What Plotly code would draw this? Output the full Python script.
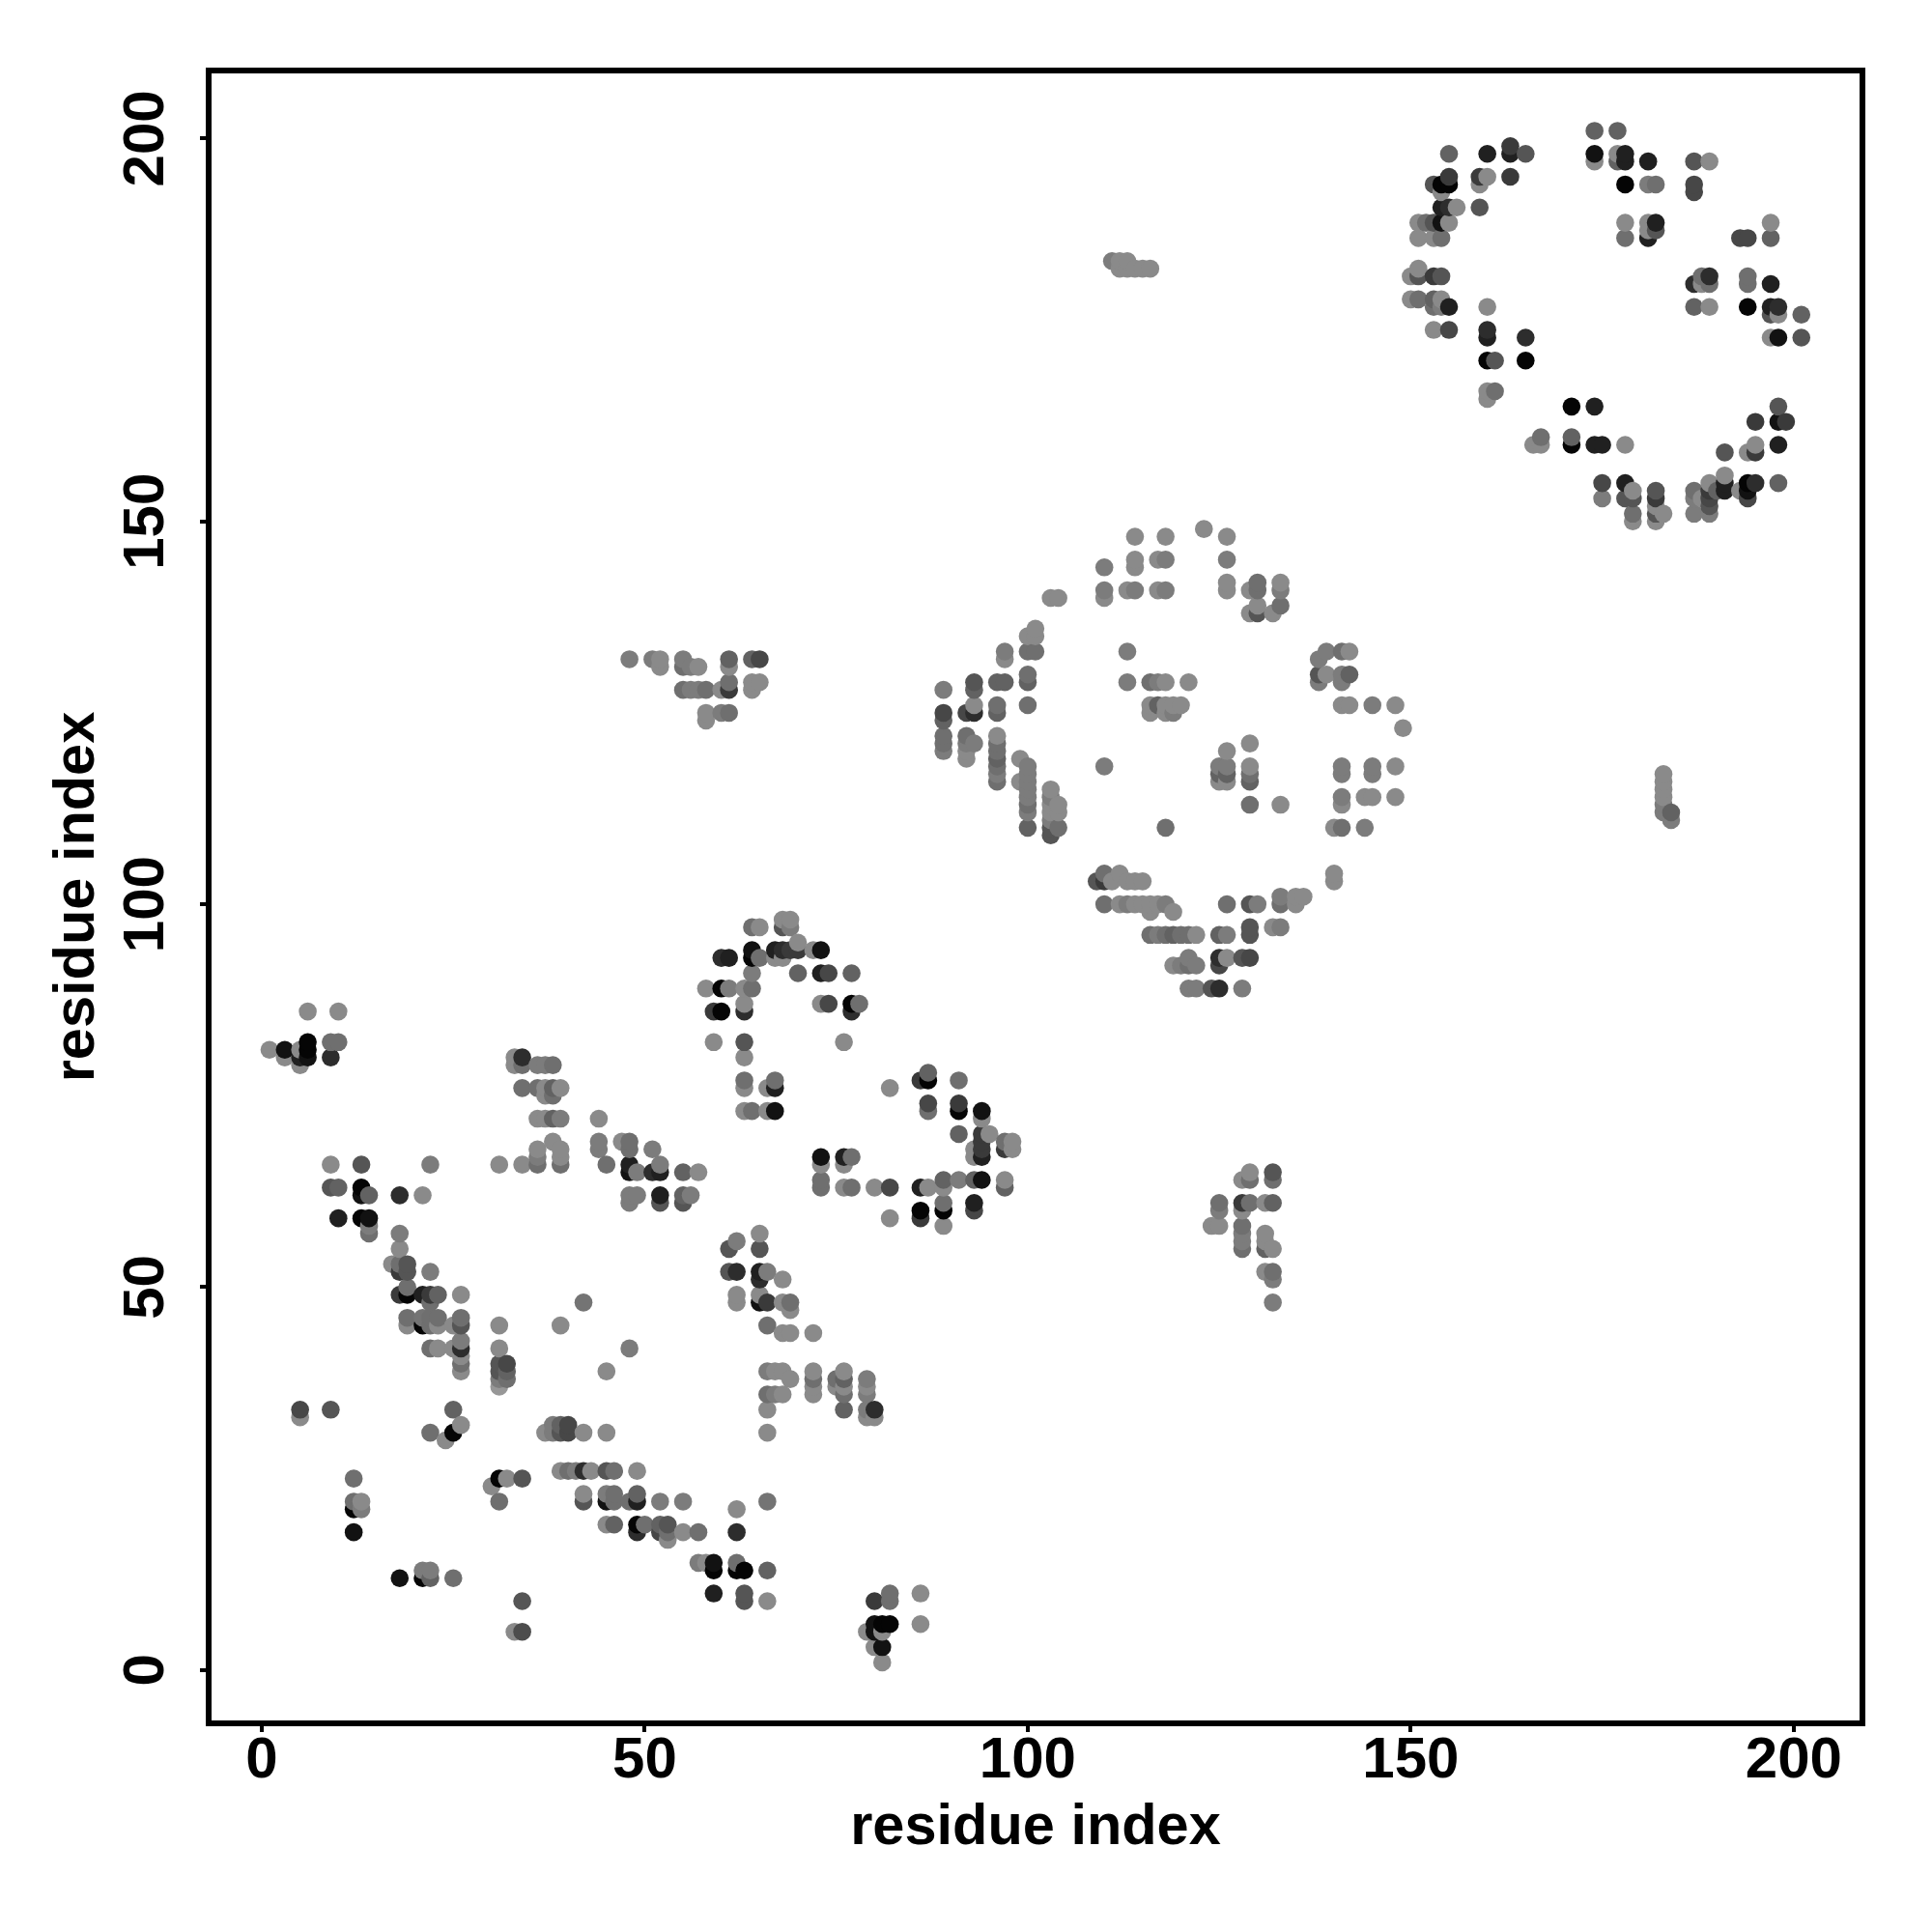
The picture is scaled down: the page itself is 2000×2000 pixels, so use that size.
import numpy as np
import pandas as pd
import plotly.graph_objects as go

# Contacts: residue i, residue j, shade (0 black ... 0.5 mid grey)
low_x = [33,34, 34, 18,21,22,25, 21,22, 12, 12,13, 12,13, 12, 31, 31,32,34, 30,
         39,40,41,42,43,45,46,49, 42,46,45,49, 42,45,46,48,49,52,
         45,46,49,50,52,53, 49,52,53, 53, 22,25, 25, 26, 24, 5,9, 5,
         37,38,39,40,42,45, 38,39,40, 31, 31,32, 31,32, 31,32, 31, 31,39, 42, 48, 45,
         26, 26, 26, 22,23,25,26, 26, 19,21,22,23,25,26, 19,21,22,23,26,
         18,19,21,22,23,26, 19, 22, 18,19,22, 17,18,19]
low_y = [5,5, 9, 12,12,12,12, 13,13, 18, 21,21, 22,22, 25, 22, 25,25,25, 24,
         26,26,26,26,26,26,26,26, 23,23,23,23, 22,22,22,22,22,22,
         19,19,19,19,19,19, 18,18,18, 17, 31,31, 34, 32, 30, 34,34, 33,
         31,31,31,31,31,31, 32,32,32, 37, 38,38, 39,39, 40,40, 42, 45,45, 48, 42, 39,
         39, 40, 41, 42,42,42,42, 43, 45,45,45,45,45,45, 46,46,46,46,46,
         49,49,49,49,49,49, 50, 48, 52,52,52, 53,53,53]
low_s = [.5,.27, .3, .05,.0,.35,.4, .45,.45, .05, .0,.45, .4,.5, .4, .4, .0,.5,.3, .5,
         .5,.4,.45,.15,.5,.3,.4,.5, .5,.4,.45,.35, .3,.05,.4,.4,.1,.45,
         .5,.35,.0,.4,.35,.3, .15,.25,.4, .5, .4,.0, .35, .5, .5, .25,.3, .5,
         .5,.45,.3,.25,.5,.5, .45,.35,.25, .55, .45,.4, .3,.35, .3,.25, .5, .5,.5, .42, .45, .5,
         .5, .4, .5, .4,.5,.5,.15, .45, .5,.0,.4,.5,.5,.3, .4,.42,.4,.4,.4,
         .2,.0,.1,.2,.35,.5, .4, .4, .2,.3,.45, .5,.4,.3]

mid_x = [6,10, 6,9,10, 1,3,5,6, 3,5,6,9, 5, 34, 33,34,36,37,38, 33,
         34,36,37,38,39, 37,38, 36,37,38,39,44, 38,44,47,48, 36,39,44,48,51, 36,39,
         9,13,22,31,34,36,39,45,48,52, 48,49,51,52,
         9,10,13, 13,14,18,21,48,49,52, 52, 10,13,14, 14, 14,18, 18]
mid_y = [86,86, 82,82,82, 81,81,81,81, 80,80,80,80, 79, 80, 79,79,79,79,79, 80,
         76,76,76,76,76, 75,75, 72,72,72,72,72, 69,69,69,69, 68,68,68,68,68, 67,67,
         66,66,66,66,66,66,66,66,66,66, 65,65,65,65,
         63,63,63, 62,62,62,62,62,62,62, 61, 59,59,59, 58, 57,57, 55]
mid_s = [.5,.5, .0,.4,.4, .5,.05,.5,.0, .5,.1,.05,.15, .5, .15, .5,.4,.45,.45,.4, .5,
         .4,.4,.5,.35,.5, .5,.4, .5,.5,.35,.45,.5, .5,.45,.5,.4, .5,.5,.45,.4,.45, .45,.5,
         .5,.3,.45,.5,.5,.4,.4,.4,.1,.45, .05,.45,.15,.1,
         .3,.35,.0, .05,.35,.15,.5,.45,.45,.1, .3, .1,.0,.05, .45, .4,.45, .5]

hook_x = [68,69, 64,65,68,69, 70, 64,67,68,69,70,72,73, 60,61,64,65,67,68,
          64,70,73,74,77, 58,60,61,63,64, 63,73,74,77,78, 59,60,63,77, 59,63,76, 63,
          63,67,86,87,91, 87, 63,66,67,82, 63,64,66,67,87,91,94, 87,91, 94,
          91,94,95, 94,97,98, 93,94,97,98, 93,94, 73,76,77, 73,76,
          73,93,94,97,89,91, 73,76,77,80,82,86,87,89,97, 89,93, 86,89,93, 82,86, 89,
          51, 52, 49,51,52,55,57, 48,49,52,55,56, 48,52,55]
hook_y = [98,98, 97,97,97,97, 95, 94,94,94,94,94,94,94, 93,93,93,93,93,93,
          91,91,91,91,91, 89,89,89,89,89, 87,87,87,87,87, 86,86,86,86, 82,82,82, 80,
          77,77,77,77,77, 78, 76,76,76,76, 73,73,73,73,73,73,73, 74,74, 72,
          70,70,70, 69,69,69, 68,68,68,68, 67,67, 67,67,67, 66,66,
          64,64,64,64,64,64, 63,63,63,63,63,63,63,63,63, 61,61, 60,60,60, 59,59, 58,
          68, 66, 65,65,65,65,65, 62,62,62,62,62, 61,61,61]
hook_s = [.5,.5, .4,.5,.3,.45, .5, .05,.1,.15,.2,.2,.5,.05, .15,.1,.0,.4,.5,.5,
          .45,.35,.1,.25,.35, .5,.0,.45,.5,.4, .5,.5,.25,.0,.4, .2,.0,.15,.15, .5,.3,.5, .5,
          .4,.4,.2,.0,.4, .35, .5,.5,.1,.5, .5,.4,.5,.05,.4,.0,.05, .25,.2, .5,
          .35,.2,.5, .2,.4,.5, .5,.2,.2,.5, .5,.1, .05,.1,.4, .5,.5,
          .4,.35,.05,.5,.35,.45, .4,.5,.4,.5,.25,.1,.5,.5,.35, .4,.1, .0,.0,.25, .5,.2, .5,
          .45, .45, .45,.15,.1,.35,.5, .45,.45,.1,.35,.45, .45,.3,.3]

v_x = [61,65, 62, 65, 61,62,65,66, 65,68, 62,65, 62,65,66,68,69, 69, 66, 68,69,72,
       66,67,68,72,76, 69,72,75,76,79, 72,75,76,79, 66,67,68,72,76,79, 66,76,79,80, 79,80, 66,
       52,55, 62,66, 62,55,57, 57,58,59,62, 59,62,63,66, 59,63, 63,66,
       82,86, 80,82, 80,81,82,86, 79,80,81, 80,81, 81]
v_y = [55,55, 56, 57, 52,52,52,52, 51,51, 49,49, 48,48,48,48,48, 47, 45, 44,44,44,
       39,39,39,39,39, 38,38,38,38,38, 37,37,37,37, 36,36,36,36,36,36, 34,34,34,34, 33,33, 31,
       22,22, 21,22, 18,18,18, 14,14,14,14, 13,13,13,13, 10,10, 9,9,
       10,10, 9,9, 6,6,6,6, 5,5,5, 3,3, 1]
v_s = [.3,.3, .45, .5, .3,.15,.1,.45, .15,.5, .5,.5, .5,.05,.2,.5,.4, .5, .4, .5,.5,.5,
       .45,.5,.5,.5,.5, .5,.4,.4,.35,.45, .5,.5,.5,.5, .4,.45,.5,.5,.4,.45, .5,.35,.45,.15, .5,.5, .5,
       .45,.45, .5,.42, .15,.5,.4, .45,.5,.05,.4, .0,.0,.0,.35, .1,.3, .3,.5,
       .4,.5, .2,.4, .05,.0,.0,.5, .5,.05,.5, .5,.05, .5]

ring_x = [123, 114,118,126, 114,117,118,126, 110,114, 126,130,133,
          110,113,114,117,118,126,129,130,133, 103,104,110, 130,133, 129,130,132,
          101, 100,101, 97,100,101,113,139,141,142, 97,138,
          100,138,139,141,142, 93,96,97,100,113,116,117,118,121,138,141,
          89,93, 93,96,100,116,117,118,119,120,141,142,145,148,
          89,92,93,96,116,118,119, 89, 149, 89,92,96, 89,92,93,96,129,
          89,92,96,126, 92,96,99,125,126, 96,100,110,125,126,129,141,145,148,
          96,100,125,126,129,141,145, 96,99,100,125,126,129,
          100,103, 100,103,141,144,145,148, 100,103,104,129,133,141,
          100,103,104, 103, 100,103,104,118,140,141,144, 103,
          110,112,140, 109,110,111,113,114,115,140, 133,135,136,
          110,112,113,114,115,116,117,118,126,129,130,133,135, 116,119,
          129,132,133, 116,117,118,119,120,121,122,125,126,129,
          121,125,126,128,129, 119,120,121,122,125, 121,122,124,125,128]
ring_y = [149, 148,148,148, 145,145,145,145, 144,144, 142,142,142,
          141,141,141,141,141,141,141,141,141, 140,140,140, 139,139, 138,138,138,
          136, 135,135, 133,133,133,133,133,133,133, 132,132,
          130,130,130,130,130, 129,129,129,129,129,129,129,129,129,129,129,
          128,128, 126,126,126,126,126,126,126,126,126,126,126,126,
          125,125,125,125,125,125,125, 124, 123, 122,122,122, 121,121,121,121,121,
          120,120,120,120, 119,119,119,118,118, 118,118,118,118,118,118,118,118,118,
          117,117,117,117,117,117,117, 116,116,116,116,116,116,
          115,115, 114,114,114,114,114,114, 113,113,113,113,113,113,
          112,112,112, 111, 110,110,110,110,110,110,110, 109,
          104,104,104, 103,103,103,103,103,103,103, 101,101,101,
          100,100,100,100,100,100,100,100,100,100,100,100,100, 99,99,
          97,97,97, 96,96,96,96,96,96,96,96,96,96,
          93,93,93,93,93, 92,92,92,92,92, 89,89,89,89,89]
ring_s = [.5, .5,.5,.5, .5,.5,.45,.45, .45,.5, .5,.4,.5,
          .45,.5,.45,.5,.45,.5,.5,.4,.45, .5,.5,.5, .5,.4, .5,.3,.5,
          .5, .5,.5, .45,.4,.4,.45,.45,.4,.5, .5,.45,
          .4,.3,.5,.45,.35, .3,.35,.35,.35,.45,.4,.45,.5,.5,.45,.45,
          .45,.35, .5,.4,.4,.5,.35,.5,.5,.5,.5,.5,.45,.5,
          .25,.25,.15,.35,.5,.5,.45, .35, .5, .4,.4,.5, .4,.45,.45,.4,.5,
          .45,.5,.4,.5, .5,.35,.5,.45,.45, .4,.45,.45,.45,.45,.5,.45,.45,.5,
          .45,.45,.35,.35,.4,.45,.45, .4,.5,.45,.5,.5,.35,
          .45,.5, .45,.45,.45,.5,.5,.5, .4,.5,.5,.4,.5,.5,
          .45,.5,.5, .45, .35,.3,.4,.4,.5,.4,.45, .3,
          .4,.5,.5, .3,.2,.5,.5,.5,.5,.5, .45,.5,.5,
          .4,.5,.45,.5,.5,.5,.5,.45,.4,.3,.45,.4,.5, .5,.5,
          .3,.5,.45, .4,.45,.4,.35,.4,.4,.5,.35,.45,.3,
          .45,.15,.5,.3,.25, .5,.45,.4,.45,.25, .45,.45,.3,.15,.45]

tri_x = [48,51,52,55,61,64,65, 52,55,56,57,61, 61,64,65, 55,56,57,58,60,61,64,
         58,60,61, 58, 129,132, 128,129,132, 125,128,129,131,132, 125,128,
         124,125,128, 128,131, 128,131, 128,131,132, 131,132, 132, 132,
         183,183,183,183,183,183,184,184, 111,112,113,112,113,114,115,116]
tri_y = [132,132,132,132,132,132,132, 131,131,131,131,131, 129,129,129, 128,128,128,128,128,128,128,
         125,125,125, 124, 65,65, 64,64,64, 61,61,61,61,61, 60,60,
         58,58,58, 57,57, 56,56, 55,55,55, 52,52, 51, 48,
         117,116,115,114,113,112,112,111, 184,184,184,183,183,183,183,183]
tri_s = [.45,.45,.5,.45,.35,.35,.25, .5,.4,.45,.5,.5, .4,.5,.5, .4,.45,.45,.4,.5,.2,.5,
         .5,.45,.4, .5, .5,.3, .5,.4,.4, .4,.2,.4,.5,.35, .45,.5,
         .5,.5,.4, .45,.5, .45,.5, .4,.35,.5, .5,.4, .45, .45,
         .5,.5,.5,.5,.45,.45,.35,.45, .45,.5,.5,.5,.5,.5,.5,.5]

top_x = [174,177, 163, 155,160,163,165,174,177,178, 174,177,178,181,187,189,
         155,159,160,163, 153,154,155,159,178,181,182,187, 154,187,
         154,155,156,159, 151,152,153,154,155,178,181,182,197, 181,182,
         151,153,154,178,181,193,194,197, 151, 150,151,153,154,188,189,194,
         187,188,189,194,197, 150,151,153,154, 153,154,155,160,187,189,194,197,198,
         197,198,201, 153,155,160, 160,165,197,198,201, 160,161,165, 160,161, 160,
         171,174,198, 195,198,199, 167,171, 166,167,171,174,175,178,195,198,
         191,194,195, 191, 175,178,189,191,194,195,198,
         179,182,187,189,190,191,193,194, 175,178,179,182,187,188,189,194,
         182,189, 179,183,187,189,182, 179,182]
top_y = [201,201, 199, 198,198,198,198,198,198,198, 197,197,197,197,197,197,
         195,195,195,195, 194,194,194,194,194,194,194,194, 193,193,
         191,191,191,191, 189,189,189,189,189,189,189,189,189, 188,188,
         187,187,187,187,187,187,187,187, 183, 182,182,182,182,182,182,182,
         181,181,181,181,181, 179,179,179,179, 178,178,178,178,178,178,178,178,178,
         177,177,177, 175,175,175, 174,174,174,174,174, 171,171,171, 167,167, 166,
         165,165,165, 163,163,163, 161,161, 160,160,160,160,160,160,160,160,
         159,159,159, 156, 155,155,155,155,155,155,155,
         154,154,154,154,154,154,154,154, 153,153,153,153,153,153,153,153,
         152,152, 151,151,151,151,151, 150,150]
top_s = [.35,.35, .2, .35,.1,.1,.3,.05,.5,.1, .5,.35,.1,.1,.3,.5,
         .2,.2,.5,.2, .3,.0,.0,.5,.0,.45,.4,.25, .5,.25,
         .1,.15,.5,.3, .5,.4,.3,.05,.5,.5,.5,.1,.5, .5,.3,
         .5,.5,.4,.4,.1,.25,.25,.35, .5, .5,.3,.2,.3,.4,.15,.4,
         .15,.5,.4,.4,.1, .5,.4,.35,.5, .4,.45,.1,.5,.35,.5,.0,.1,.15,
         .3,.5,.35, .5,.25,.15, .1,.15,.5,.05,.3, .0,.3,.0, .5,.4, .5,
         .0,.1,.3, .2,.05,.2, .4,.35, .5,.5,.0,.1,.1,.5,.5,.1,
         .3,.5,.2, .5, .25,.1,.5,.1,.0,.15,.35,
         .5,.3,.4,.2,.35,.1,.5,.05, .45,.3,.3,.2,.45,.5,.25,.25,
         .5,.3, .4,.5,.45,.45,.3, .5,.5]

tick_vals = [0, 50, 100, 150, 200]
tick_text = ["0", "50", "100", "150", "200"]
axis_label = "residue index"

frame = pd.DataFrame({
    "x": low_x + mid_x + hook_x + v_x + ring_x + tri_x + top_x,
    "y": low_y + mid_y + hook_y + v_y + ring_y + tri_y + top_y,
    "s": low_s + mid_s + hook_s + v_s + ring_s + tri_s + top_s,
}).drop_duplicates(["x", "y"]).sort_values(["x", "y"])

fig = go.Figure(go.Scatter(
    x=frame["x"], y=frame["y"], mode="markers",
    marker=dict(color=frame["s"] * 1.06, cmin=0, cmax=1, size=18.6,
                colorscale=[[0, "#050505"], [1, "#ffffff"]], line=dict(width=0)),
    hoverinfo="skip", showlegend=False))

font = dict(family="Liberation Sans", color="black", weight="bold")
axis = dict(tickmode="array", tickvals=tick_vals, ticktext=tick_text,
            showgrid=False, zeroline=False, showline=True, mirror=True,
            linecolor="black", linewidth=6, ticks="outside", ticklen=6,
            tickwidth=4, tickcolor="black",
            tickfont=dict(size=60, **font))
fig.update_layout(
    width=2000, height=2000, paper_bgcolor="white", plot_bgcolor="white",
    margin=dict(l=219, r=75, t=76, b=219, autoexpand=False),
    xaxis=dict(axis, range=[-6.56, 208.6], ticklabelstandoff=-25,
               title=dict(text=axis_label, font=dict(size=59.5, **font), standoff=17)),
    yaxis=dict(axis, range=[-6.58, 208.5], tickangle=-90, ticklabelstandoff=14, ticklabelshift=9,
               title=dict(text=axis_label, font=dict(size=59.5, **font), standoff=0)),
)
fig.write_html("out.html", config={"displayModeBar": False},
               post_script="document.body.style.margin='0';")
